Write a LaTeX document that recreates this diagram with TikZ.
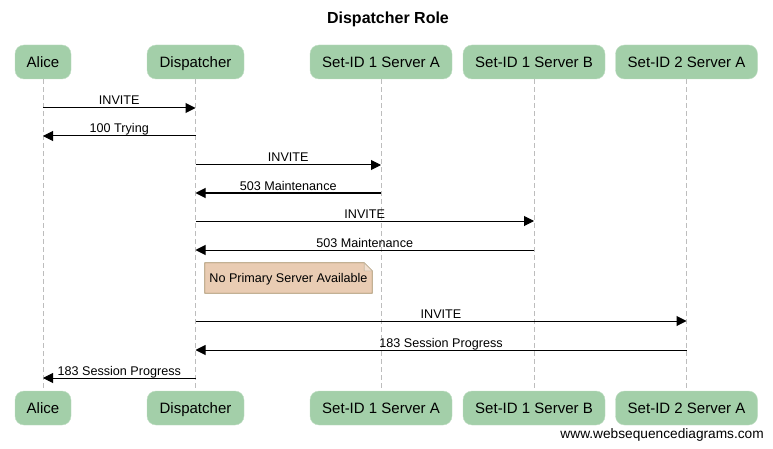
\documentclass[tikz,border=0pt]{standalone}
\usepackage{fontspec}
\setmainfont{Liberation Sans}
\usetikzlibrary{arrows.meta, calc}
\definecolor{actfill}{HTML}{A3CFA9}
\definecolor{notefill}{HTML}{E9CCB3}
\definecolor{noteline}{HTML}{A38A62}
\definecolor{lifegray}{HTML}{BDBDBD}
\tikzset{
  actor/.style   = {fill=actfill, draw=actfill!70!white, rounded corners=9pt,
                    minimum height=34pt, inner sep=0pt, text height=10.8pt, text depth=0pt,
                    font=\fontsize{15}{18}\selectfont},
  life/.style    = {draw=lifegray, dash pattern=on 5pt off 3pt, line width=0.8pt},
  msg/.style     = {-{Triangle[length=10pt,width=10pt]}, line width=1pt},
  lbl/.style     = {anchor=base, yshift=3pt, inner sep=0pt,
                    font=\fontsize{12.6}{15}\selectfont},
  notebox/.style = {minimum width=167pt, minimum height=30pt, inner sep=0pt,
                    text height=9pt, text depth=0pt,
                    font=\fontsize{12.6}{15}\selectfont},
}

\begin{document}
\begin{tikzpicture}[x=1pt, y=-1pt]
        \useasboundingbox (0,0) rectangle (773,449);
        \node[font=\fontsize{16}{19}\selectfont\bfseries] (title) at (388,19) {Dispatcher Role};
        % participants, top and bottom
        \node[actor, minimum width=56pt]  (alice) at (43,62)    {Alice};
        \node[actor, minimum width=97pt]  (disp)  at (195.5,62) {Dispatcher};
        \node[actor, minimum width=142pt] (sa1)   at (381,62)   {Set-ID 1 Server A};
        \node[actor, minimum width=142pt] (sb1)   at (534,62)   {Set-ID 1 Server B};
        \node[actor, minimum width=142pt] (sa2)   at (686.5,62) {Set-ID 2 Server A};
        \node[actor, minimum width=56pt]  (aliceb) at (43,408)    {Alice};
        \node[actor, minimum width=97pt]  (dispb)  at (195.5,408) {Dispatcher};
        \node[actor, minimum width=142pt] (sa1b)   at (381,408)   {Set-ID 1 Server A};
        \node[actor, minimum width=142pt] (sb1b)   at (534,408)   {Set-ID 1 Server B};
        \node[actor, minimum width=142pt] (sa2b)   at (686.5,408) {Set-ID 2 Server A};
        \draw[life] (alice) -- (aliceb);
        \draw[life] (disp)  -- (dispb);
        \draw[life] (sa1)   -- (sa1b);
        \draw[life] (sb1)   -- (sb1b);
        \draw[life] (sa2)   -- (sa2b);
        % messages
        \draw[msg] (alice |- 0,108) -- node[lbl] {INVITE} (disp |- 0,108);
        \draw[msg] (disp |- 0,136) -- node[lbl] {100 Trying} (alice |- 0,136);
        \draw[msg] (disp |- 0,165) -- node[lbl] {INVITE} (sa1 |- 0,165);
        \draw[msg] (sa1 |- 0,193) -- node[lbl] {503 Maintenance} (disp |- 0,193);
        \draw[msg] (disp |- 0,221) -- node[lbl] {INVITE} (sb1 |- 0,221);
        \draw[msg] (sb1 |- 0,250) -- node[lbl] {503 Maintenance} (disp |- 0,250);
        % note
        \coordinate (notec) at (288.5,278);
        \path (notec) node[notebox] (note) {};
        \filldraw[fill=notefill, draw=noteline, line width=0.8pt]
            (note.south west) -- (note.north west) -- ($(note.north east)+(-8,0)$)
            -- ($(note.north east)+(0,8)$) -- (note.south east) -- cycle;
        \filldraw[fill=notefill!60!white, draw=noteline!60!white, line width=0.6pt]
            ($(note.north east)+(-8,0)$) -- ($(note.north east)+(-8,8)$)
            -- ($(note.north east)+(0,8)$) -- cycle;
        \node[notebox] (notetext) at (notec) {No Primary Server Available};
        \draw[msg] (disp |- 0,321) -- node[lbl] {INVITE} (sa2 |- 0,321);
        \draw[msg] (sa2 |- 0,350) -- node[lbl] {183 Session Progress} (disp |- 0,350);
        \draw[msg] (disp |- 0,378) -- node[lbl] {183 Session Progress} (alice |- 0,378);
        \node[anchor=base east, inner sep=0pt, font=\fontsize{13.7}{16}\selectfont] (site) at (764,438) {www.websequencediagrams.com};
    \end{tikzpicture}
\end{document}
